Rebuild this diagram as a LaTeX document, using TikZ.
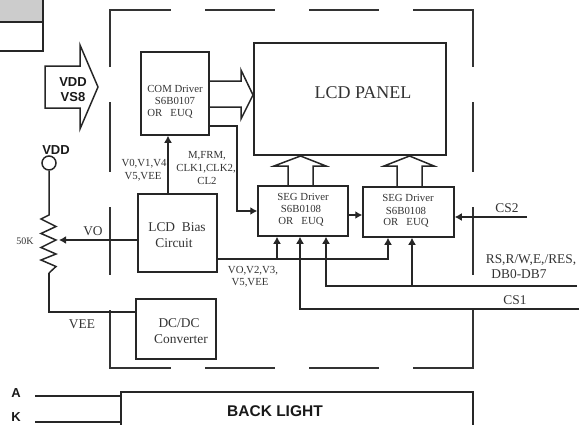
\documentclass[tikz,border=0pt]{standalone}
\usepackage{fontspec}
\setmainfont{Liberation Serif}
\newfontfamily\lblsans{Liberation Sans}
\usetikzlibrary{arrows.meta}
\tikzset{
  wire/.style={line width=1.5pt,black!85},
  arrowline/.style={wire,-{Latex[length=7pt,width=8pt]}},
  blockbox/.style={draw=black!85,line width=1.5pt,inner sep=0pt},
  frameline/.style={line width=1.3pt,black!80},
  smalltxt/.style={inner sep=0pt,text=black!80,font=\fontsize{10.8}{12}\selectfont},
  midtxt/.style={inner sep=0pt,text=black!80,font=\fontsize{13.4}{15}\selectfont},
  sanstxt/.style={inner sep=0pt,text=black!90,font=\lblsans\bfseries\fontsize{13}{15}\selectfont},
}
\begin{document}
\begin{tikzpicture}[x=1pt,y=-1pt]
            \clip (0,0) rectangle (583,424);
            % table corner
            \fill[black!20] (0,0) rectangle (43,22);
            \draw[wire] (0,22) -- (43,22);
            \draw[wire] (43,0) -- (43,51) -- (0,51);
            % module frame
            \draw[frameline] (110,67) -- (110,10) -- (171,10);
            \draw[frameline] (205,10) -- (275,10);
            \draw[frameline] (309,10) -- (379,10);
            \draw[frameline] (413,10) -- (473,10) -- (473,67);
            \draw[frameline] (110,102) -- (110,172);
            \draw[frameline] (110,207) -- (110,275);
            \draw[frameline] (473,102) -- (473,172);
            \draw[frameline] (473,207) -- (473,275);
            \draw[frameline] (110,310) -- (110,368) -- (171,368);
            \draw[frameline] (205,368) -- (275,368);
            \draw[frameline] (309,368) -- (379,368);
            \draw[frameline] (413,368) -- (473,368) -- (473,309);
            % blocks
            \node[blockbox,minimum width=68pt,minimum height=83pt] (comdrv) at (175,93.5) {};
            \node[blockbox,minimum width=192pt,minimum height=112pt] (panel) at (350,99) {};
            \node[blockbox,minimum width=90pt,minimum height=50pt] (segone) at (303,211) {};
            \node[blockbox,minimum width=91pt,minimum height=50pt] (segtwo) at (408.5,212) {};
            \node[blockbox,minimum width=79pt,minimum height=78pt] (bias) at (177.5,233) {};
            \node[blockbox,minimum width=80pt,minimum height=60pt] (dcdc) at (176,329) {};
            \node[blockbox,minimum width=352pt,minimum height=60pt] (backlight) at (297,422) {};
            % block texts
            \node[smalltxt] (comtxta) at (175,88.5) {COM Driver};
            \node[smalltxt] (comtxtb) at (175,100.5) {S6B0107};
            \node[smalltxt] (comtxtc) at (170,113.5) {OR\ \ \ EUQ};
            \node[inner sep=0pt,text=black!80,font=\fontsize{18}{20}\selectfont] (paneltxt) at (363,93) {LCD PANEL};
            \node[smalltxt] (sega) at (303,197) {SEG Driver};
            \node[smalltxt] (segb) at (301,209) {S6B0108};
            \node[smalltxt] (segc) at (301,222) {OR\ \ \ EUQ};
            \node[smalltxt] (segd) at (408,198) {SEG Driver};
            \node[smalltxt] (sege) at (406,211) {S6B0108};
            \node[smalltxt] (segf) at (406,223) {OR\ \ \ EUQ};
            \node[midtxt] (biasa) at (177,227) {LCD\ \ Bias};
            \node[midtxt] (biasb) at (174,243) {Circuit};
            \node[midtxt] (dca) at (179,323) {DC/DC};
            \node[midtxt] (dcb) at (181,339) {Converter};
            \node[sanstxt,font=\lblsans\bfseries\fontsize{15.5}{18}\selectfont] (backtxt) at (275,411) {BACK LIGHT};
            % big arrows
            \draw[wire] (45,66) -- (80,66) -- (80,45) -- (98,87) -- (80,129) -- (80,108) -- (45,108) -- cycle;
            \node[sanstxt] (vddin) at (73,82) {VDD};
            \node[sanstxt] (vssin) at (73,97) {VS8};
            \draw[wire] (comdrv.east |- 0,81) -- (241,81) -- (241,70) -- (253,95) -- (241,119) -- (241,107) -- (comdrv.east |- 0,107);
            \draw[wire] (288,186) -- (288,166) -- (274,166) -- (300.5,156) -- (326,166) -- (313,166) -- (313,186);
            \draw[wire] (397,187) -- (397,166) -- (384,166) -- (409.5,156) -- (434,166) -- (422,166) -- (422,187);
            % connectors
            \coordinate (busleft) at (bias.east |- 0,259);
            \coordinate (datain) at (577,286);
            \coordinate (csonein) at (579,309);
            \coordinate (cstwoin) at (527,217);
            \draw[arrowline] (bias.north -| 168,0) -- (comdrv.south -| 168,0);
            \draw[arrowline] (comdrv.east |- 0,126) -- (237,126) |- (segone.west);
            \draw[arrowline] (segone.east |- 0,215) -- (segtwo.west |- 0,215);
            \draw[arrowline] (cstwoin) -- (segtwo.east |- cstwoin);
            \draw[arrowline] (busleft) -| (segtwo.south -| 388,0);
            \draw[arrowline] (busleft -| 277,0) -- (segone.south -| 277,0);
            \draw[arrowline] (datain) -| (segone.south -| 326,0);
            \draw[arrowline] (datain -| 412,0) -- (segtwo.south -| 412,0);
            \draw[arrowline] (csonein) -| (segone.south -| 300,0);
            % trimmer
            \node[draw=black!85,line width=1.5pt,circle,minimum size=14pt,inner sep=0pt] (vddpin) at (49,163) {};
            \node[sanstxt] (vddtxt) at (56,150) {VDD};
            \coordinate (pota) at (49,215);
            \coordinate (potb) at (49,273);
            \coordinate (potw) at (59,240);
            \draw[wire] (vddpin) -- (pota) -- (41,219) -- (56,226.5) -- (41,233.5) -- (56,240) -- (41,247.5) -- (56,254) -- (41,260) -- (56,266.5) -- (potb);
            \draw[wire] (potb) |- (dcdc.west |- 0,312);
            \draw[arrowline] (bias.west |- potw) -- (potw);
            % free pins
            \coordinate (apin) at (35,396);
            \coordinate (kpin) at (35,422);
            \draw[wire] (apin) -- (apin -| backlight.west);
            \draw[wire] (kpin) -- (kpin -| backlight.west);
            % signal labels
            \node[smalltxt] (lblva) at (144,164) {V0,V1,V4};
            \node[smalltxt] (lblvb) at (143,177) {V5,VEE};
            \node[smalltxt] (lblma) at (207,156) {M,FRM,};
            \node[smalltxt] (lblmb) at (206,168.5) {CLK1,CLK2,};
            \node[smalltxt] (lblmc) at (207,181) {CL2};
            \node[smalltxt] (lblvc) at (253,270.5) {VO,V2,V3,};
            \node[smalltxt] (lblvd) at (250,283) {V5,VEE};
            \node[midtxt] (lblvo) at (93,231) {VO};
            \node[midtxt] (lblvee) at (82,324) {VEE};
            \node[inner sep=0pt,text=black!80,font=\fontsize{10}{12}\selectfont] (lblpot) at (25,241) {50K};
            \node[midtxt] (lblcstwo) at (507,208) {CS2};
            \node[midtxt] (lblrs) at (531,260) {RS,R/W,E,/RES,};
            \node[midtxt] (lbldb) at (519,274) {DB0-DB7};
            \node[midtxt] (lblcsone) at (515,300) {CS1};
            \node[sanstxt] (lbla) at (16,393) {A};
            \node[sanstxt] (lblk) at (16,417.5) {K};
        \end{tikzpicture}
\end{document}
